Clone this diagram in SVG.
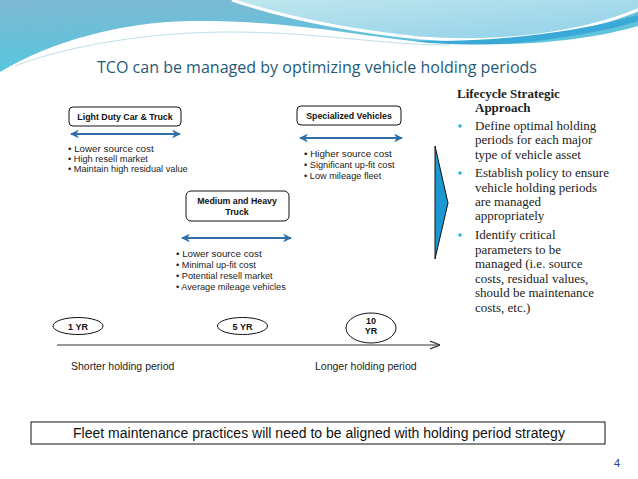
<svg xmlns="http://www.w3.org/2000/svg" width="638" height="479" viewBox="0 0 638 479">
<defs>
<linearGradient id="gLeft" x1="0" y1="0" x2="0.3" y2="1">
<stop offset="0" stop-color="#7fb8d3"/>
<stop offset="1" stop-color="#4fc9e0"/>
</linearGradient>
<linearGradient id="gRight" x1="0" y1="0" x2="1" y2="1">
<stop offset="0" stop-color="#bfe6ee"/>
<stop offset="1" stop-color="#8fd0e8"/>
</linearGradient>
<marker id="ah" viewBox="0 0 10 10" refX="9" refY="5" markerWidth="4" markerHeight="4" orient="auto-start-reverse">
<path d="M0,0 L10,5 L0,10 L3,5 Z" fill="#2f6eab"/>
</marker>
<marker id="ax" viewBox="0 0 10 10" refX="10" refY="5" markerWidth="10" markerHeight="10" markerUnits="userSpaceOnUse" orient="auto">
<path d="M0,1 L10,5 L0,9" fill="none" stroke="#333" stroke-width="1.2"/>
</marker>
<style>
.box{fill:#fff;stroke:#111;stroke-width:1}
.bt{font-family:"Liberation Sans",Arial,sans-serif;font-weight:bold;font-size:8.8px;fill:#111;text-anchor:middle}
.yt{font-family:"Liberation Sans",Arial,sans-serif;font-weight:bold;font-size:9px;fill:#111;text-anchor:middle}
.bl{font-family:"Liberation Sans",Arial,sans-serif;font-size:9.2px;fill:#222}
.b1{font-size:9.8px}
.dbl{stroke:#2f6eab;stroke-width:2.2;fill:none;marker-start:url(#ah);marker-end:url(#ah)}
.rs{font-family:"Liberation Serif","Times New Roman",serif;font-size:13px;fill:#222}
.lbl{font-family:"Liberation Sans",Arial,sans-serif;font-size:10.5px;fill:#222}
</style>
</defs>
<rect width="638" height="479" fill="#fff"/>
<g id="header">
<rect x="0" y="0" width="638" height="80" fill="url(#gLeft)"/>
<path d="M232,0 C280,16 340,30 420,38 C500,44 580,34 638,10 L638,0 Z" fill="url(#gRight)"/>
<path d="M232,0 C280,16 340,30 420,38 C500,44 580,34 638,10" fill="none" stroke="#fff" stroke-width="3"/>
<path d="M400,44 C480,46 570,38 638,18" fill="none" stroke="#3aa9d8" stroke-width="6"/>
<path d="M0,72 C50,42 120,22 190,21 C290,20 360,36 430,43 C520,48 590,40 638,26 L638,479 L0,479 Z" fill="#fff"/>
<path d="M15,66 C70,45 150,32 230,32 C320,32 380,45 450,45" fill="none" stroke="#a9d6e4" stroke-width="0.8"/>
<text x="317" y="73" text-anchor="middle" font-family="'Open Sans','Noto Sans',sans-serif" font-size="15.5" fill="#1f5a78" textLength="440" lengthAdjust="spacingAndGlyphs">TCO can be managed by optimizing vehicle holding periods</text>
</g>
<g id="connectors">
<line class="dbl" x1="71" y1="134" x2="180" y2="134"/>
<line class="dbl" x1="300" y1="138" x2="402" y2="138"/>
<line class="dbl" x1="182" y1="238" x2="291" y2="238"/>
<line x1="57" y1="345" x2="440" y2="345" stroke="#333" stroke-width="1" marker-end="url(#ax)"/>
</g>
<g id="light-duty">
<rect class="box" x="69" y="107" width="112" height="19" rx="4"/>
<text class="bt" x="125" y="120">Light Duty Car &amp; Truck</text>
<text class="bl b1" x="68" y="152">• Lower source cost</text>
<text class="bl" x="68" y="162">• High resell market</text>
<text class="bl" x="68" y="172">• Maintain high residual value</text>
</g>
<g id="specialized">
<rect class="box" x="297" y="106" width="104" height="19" rx="4"/>
<text class="bt" x="349" y="119">Specialized Vehicles</text>
<text class="bl b1" x="304" y="157">• Higher source cost</text>
<text class="bl" x="304" y="168">• Significant up-fit cost</text>
<text class="bl" x="304" y="179">• Low mileage fleet</text>
</g>
<g id="medium-heavy">
<rect class="box" x="186" y="191" width="103" height="30" rx="5"/>
<text class="bt" x="237" y="204">Medium and Heavy</text>
<text class="bt" x="237" y="214.5">Truck</text>
<text class="bl b1" x="176" y="257">• Lower source cost</text>
<text class="bl" x="176" y="268">• Minimal up-fit cost</text>
<text class="bl" x="176" y="279">• Potential resell market</text>
<text class="bl" x="176" y="290">• Average mileage vehicles</text>
</g>
<g id="chevron">
<path d="M435,146 L448,203 L435,259 Z" fill="#1b97d2" stroke="#111" stroke-width="1"/>
</g>
<g id="strategy">
<text class="rs" x="457" y="98" font-weight="bold">Lifecycle Strategic</text>
<text class="rs" x="475" y="112" font-weight="bold">Approach</text>
<circle cx="460" cy="126" r="1.8" fill="#2bb6d6"/>
<text class="rs" x="475" y="130">Define optimal holding</text>
<text class="rs" x="475" y="144">periods for each major</text>
<text class="rs" x="475" y="159">type of vehicle asset</text>
<circle cx="460" cy="173" r="1.8" fill="#2bb6d6"/>
<text class="rs" x="475" y="177">Establish policy to ensure</text>
<text class="rs" x="475" y="192">vehicle holding periods</text>
<text class="rs" x="475" y="206">are managed</text>
<text class="rs" x="475" y="220">appropriately</text>
<circle cx="460" cy="235" r="1.8" fill="#2bb6d6"/>
<text class="rs" x="475" y="239">Identify critical</text>
<text class="rs" x="475" y="254">parameters to be</text>
<text class="rs" x="475" y="268">managed (i.e. source</text>
<text class="rs" x="475" y="283">costs, residual values,</text>
<text class="rs" x="475" y="297">should be maintenance</text>
<text class="rs" x="475" y="312">costs, etc.)</text>
</g>
<g id="yr1">
<ellipse cx="78" cy="326" rx="25" ry="8.5" fill="#fff" stroke="#111" stroke-width="1"/>
<text class="yt" x="78" y="329.5">1 YR</text>
</g>
<g id="yr5">
<ellipse cx="242.5" cy="326" rx="25" ry="8.5" fill="#fff" stroke="#111" stroke-width="1"/>
<text class="yt" x="242.5" y="329.5">5 YR</text>
</g>
<g id="yr10">
<ellipse cx="371" cy="328" rx="25" ry="15" fill="#fff" stroke="#111" stroke-width="1"/>
<text class="yt" x="371" y="324">10</text>
<text class="yt" x="371" y="334">YR</text>
</g>
<text class="lbl" x="71" y="370">Shorter holding period</text>
<text class="lbl" x="315" y="370">Longer holding period</text>
<g id="footer-box">
<rect x="31" y="422" width="574" height="22" fill="#fff" stroke="#111" stroke-width="1"/>
<text x="319" y="438" text-anchor="middle" font-family="'Liberation Sans',Arial,sans-serif" font-size="14" fill="#111">Fleet maintenance practices will need to be aligned with holding period strategy</text>
</g>
<text x="617" y="467" text-anchor="middle" font-family="'Liberation Sans',Arial,sans-serif" font-size="11" fill="#2b3c8c">4</text>
</svg>
